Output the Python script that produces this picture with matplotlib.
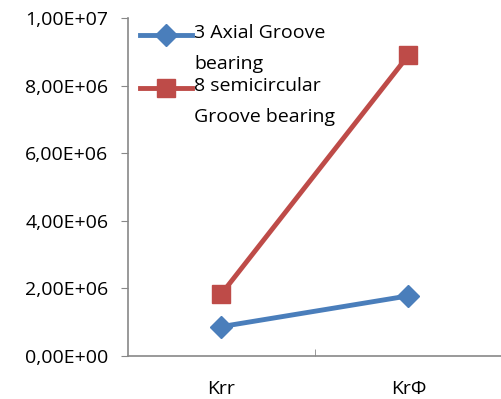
import matplotlib
matplotlib.use("Agg")
import matplotlib.pyplot as plt
from matplotlib.ticker import FuncFormatter
from matplotlib.legend_handler import HandlerLine2D

categories = ["Krr", "KrΦ"]
axial_3 = [0.87e6, 1.78e6]
semicirc_8 = [1.84e6, 8.9e6]
series_labels = ["3 Axial Groove\nbearing", "8 semicircular\nGroove bearing"]

plt.rcParams['font.family'] = ['Open Sans', 'DejaVu Sans']


class TopLineHandler(HandlerLine2D):
    # put the legend handle next to the first line of a two-line label
    def __init__(self, shift, **kw):
        super().__init__(**kw)
        self.shift = shift

    def create_artists(self, legend, orig_handle, xdescent, ydescent, width, height, fontsize, trans):
        return super().create_artists(legend, orig_handle, xdescent, ydescent - 2 * self.shift,
                                      width, height, fontsize, trans)


fig = plt.figure(figsize=(5.02, 3.99), dpi=100)
ax = fig.add_axes([128 / 502, 1 - 356 / 399, 1 - 128 / 502, (356 - 18) / 399])

x = range(len(categories))
l1, = ax.plot(x, axial_3, color='#4a7ebb', lw=3.5, marker='D', ms=11, label=series_labels[0])
l2, = ax.plot(x, semicirc_8, color='#be4b48', lw=3.5, marker='s', ms=12.5, label=series_labels[1])

ax.set_ylim(0, 1e7)
ax.set_xlim(-0.5, 1.5)
ax.set_yticks([0, 2e6, 4e6, 6e6, 8e6, 1e7])
ax.yaxis.set_major_formatter(FuncFormatter(lambda v, p: ("%.2E" % v).replace('.', ',')))
ax.set_xticks(list(x))
ax.set_xticklabels(categories)
ax.set_xticks([0.5], minor=True)
ax.tick_params(axis='x', which='major', length=0, pad=17, labelsize=14)
ax.tick_params(axis='x', which='minor', length=5, direction='in', color='#888888')
ax.tick_params(axis='y', length=5, color='#888888', labelsize=14, pad=9)

for s in ['top', 'right']:
    ax.spines[s].set_visible(False)
for s in ['left', 'bottom']:
    ax.spines[s].set_color('#888888')
    ax.spines[s].set_linewidth(1.2)

hm = {l1: TopLineHandler(10), l2: TopLineHandler(10)}
leg = ax.legend(loc='upper left', bbox_to_anchor=(140 / 502, 1 - 24 / 399),
                bbox_transform=fig.transFigure, frameon=False, fontsize=14,
                handlelength=2.7, handletextpad=0.1, labelspacing=0.25, borderaxespad=0,
                borderpad=0, handler_map=hm)
for t in leg.get_texts():
    t.set_linespacing(1.9)

fig.savefig("out.png", dpi=100)
